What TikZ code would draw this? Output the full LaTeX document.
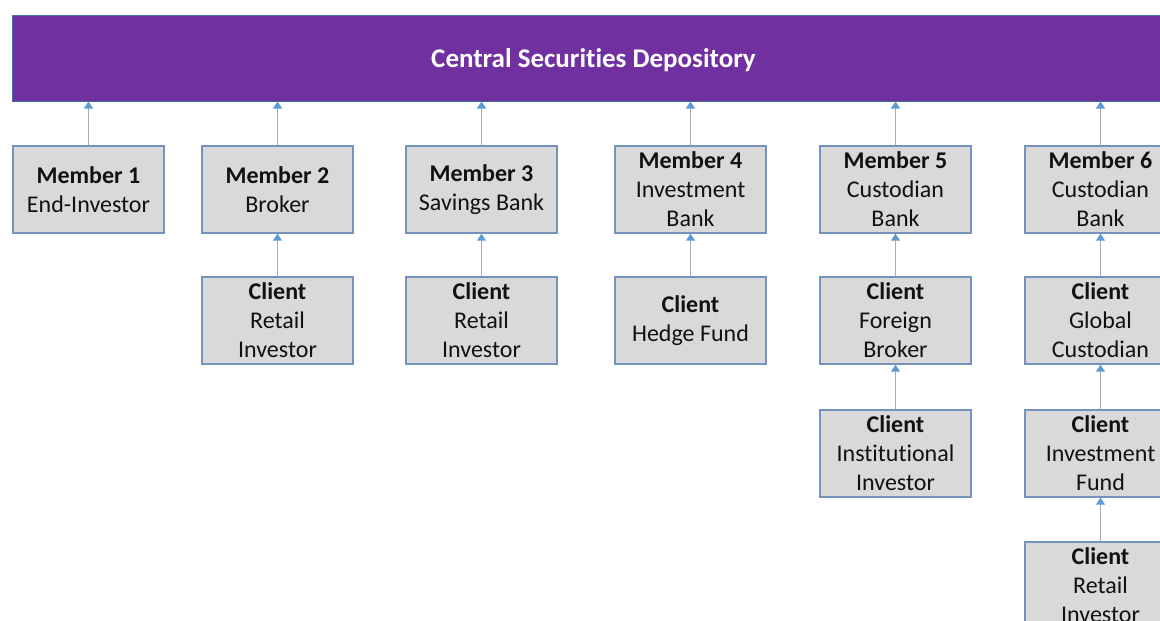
\documentclass[tikz,border=0pt]{standalone}
\usepackage{fontspec}
\setmainfont{Carlito}[Ligatures=NoCommon]
\usetikzlibrary{arrows.meta}
\definecolor{cpurple}{HTML}{7030A0}
\definecolor{barline}{HTML}{41719C}
\definecolor{boxfill}{HTML}{D9D9D9}
\definecolor{boxline}{HTML}{7393BC}
\definecolor{conline}{HTML}{A9AEB6}
\definecolor{tipblue}{HTML}{5B9BD5}
\definecolor{txt}{HTML}{111111}
\tikzset{
  entity/.style={draw=boxline, line width=1.4pt, fill=boxfill, rectangle,
    minimum width=151pt, minimum height=87pt, inner sep=0pt, align=center,
    text=txt, font=\fontsize{24}{29}\selectfont},
  link/.style={draw=conline, line width=1.5pt,
    -{Triangle[length=7pt,width=9pt,color=tipblue]}},
}
\begin{document}
\begin{tikzpicture}[x=1pt,y=1pt]
\useasboundingbox (0,0) rectangle (1160,-621);
\clip (0,0) rectangle (1160,-621);
\node[draw=barline, line width=1pt, fill=cpurple, rectangle, minimum width=1163pt,
  minimum height=86pt, inner sep=0pt, text=white, text depth=0pt,
  font=\fontsize{27}{31}\selectfont\bfseries] (bar) at (593.5,-58) {Central Securities Depository};

\node[entity] (m1) at (88.5,-189.5) {\textbf{Member 1}\\End-Investor};
\node[entity] (m2) at (277.5,-189.5) {\textbf{Member 2}\\Broker};
\node[entity] (m3) at (481.5,-189.5) {\textbf{Member 3}\\Savings Bank};
\node[entity] (m4) at (690.5,-189.5) {\textbf{Member 4}\\Investment\\Bank};
\node[entity] (m5) at (895.5,-189.5) {\textbf{Member 5}\\Custodian\\Bank};
\node[entity] (m6) at (1100.5,-189.5) {\textbf{Member 6}\\Custodian\\Bank};

\node[entity] (c2) at (277.5,-320.5) {\textbf{Client}\\Retail\\Investor};
\node[entity] (c3) at (481.5,-320.5) {\textbf{Client}\\Retail\\Investor};
\node[entity] (c4) at (690.5,-320.5) {\textbf{Client}\\Hedge Fund};
\node[entity] (c5) at (895.5,-320.5) {\textbf{Client}\\Foreign\\Broker};
\node[entity] (c6) at (1100.5,-320.5) {\textbf{Client}\\Global\\Custodian};

\node[entity] (d5) at (895.5,-453.5) {\textbf{Client}\\Institutional\\Investor};
\node[entity] (d6) at (1100.5,-453.5) {\textbf{Client}\\Investment\\Fund};

\node[entity] (e6) at (1100.5,-585.5) {\textbf{Client}\\Retail\\Investor};

\foreach \m in {m1,m2,m3,m4,m5,m6}
  \draw[link] (\m.north) -- (\m.north |- bar.south);
\draw[link] (c2) -- (m2);
\draw[link] (c3) -- (m3);
\draw[link] (c4) -- (m4);
\draw[link] (c5) -- (m5);
\draw[link] (c6) -- (m6);
\draw[link] (d5) -- (c5);
\draw[link] (d6) -- (c6);
\draw[link] (e6) -- (d6);
\end{tikzpicture}
\end{document}
